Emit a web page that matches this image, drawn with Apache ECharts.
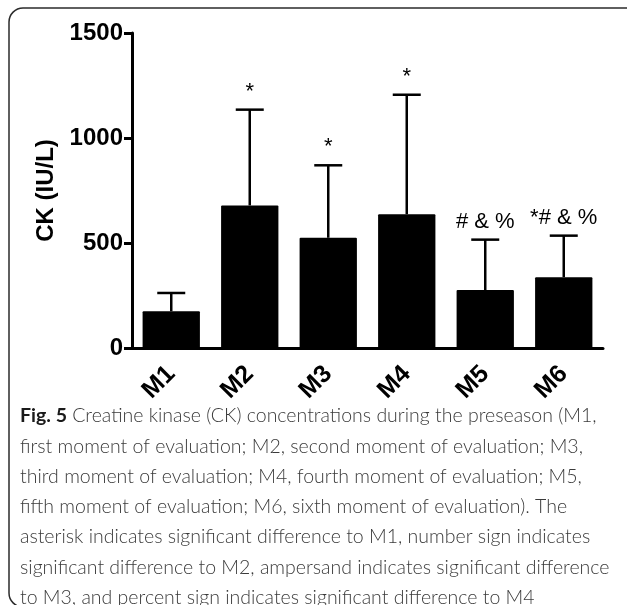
<!DOCTYPE html>
<html><head><meta charset="utf-8">
<script src="https://cdn.jsdelivr.net/npm/echarts@6.0.0/dist/echarts.min.js"></script>
<style>html,body{margin:0;padding:0;background:#fff}#c{width:627px;height:605px}</style>
</head><body><div id="c"></div>
<script>
const categories = ['M1', 'M2', 'M3', 'M4', 'M5', 'M6'];
const means = [175, 679, 525, 637, 276, 337];
const errorTops = [262, 1135, 870, 1206, 516, 535];
const marks = ['', '*', '*', '*', '# & %', '*# & %'];
const yTicks = [0, 500, 1000, 1500];
const yName = 'CK (IU/L)';
const captionLines = [
  '{b|Fig. 5} Creatine kinase (CK) concentrations during the preseason (M1,',
  'first moment of evaluation; M2, second moment of evaluation; M3,',
  'third moment of evaluation; M4, fourth moment of evaluation; M5,',
  'fifth moment of evaluation; M6, sixth moment of evaluation). The',
  'asterisk indicates significant difference to M1, number sign indicates',
  'significant difference to M2, ampersand indicates significant difference',
  'to M3, and percent sign indicates significant difference to M4'
];

const chart = echarts.init(document.getElementById('c'), null, {renderer: 'canvas'});
const FONT = '"Liberation Sans", Arial, Helvetica, sans-serif';
const CAPFONT = 'Lato, "Open Sans", sans-serif';

const graphic = [
  {type: 'rect', x: 9, y: 8, shape: {x: 0, y: 0, width: 632, height: 599, r: 14},
   style: {fill: 'none', stroke: '#2b2b2b', lineWidth: 1.5}, z: -10, silent: true}
];
captionLines.forEach(function (t, i) {
  graphic.push({
    type: 'text', x: 20, y: 416 + i * 30.3,
    style: {
      text: t, fill: '#3a3a3a', fontFamily: CAPFONT, fontSize: 19.5, fontWeight: 300,
      verticalAlign: 'middle', align: 'left',
      rich: {b: {fontFamily: CAPFONT, fontSize: 19.5, fontWeight: 'bold', fill: '#1a1a1a'}}
    }
  });
});

chart.setOption({
  animation: false,
  grid: {left: 132, right: 24, top: 33, bottom: 257, containLabel: false},
  xAxis: {
    type: 'category', data: categories,
    axisLine: {lineStyle: {color: '#000', width: 3}},
    axisTick: {alignWithLabel: true, length: 11, lineStyle: {color: '#000', width: 3}},
    axisLabel: {rotate: 45, margin: 22, color: '#000', fontSize: 25, fontWeight: 'bold', fontFamily: FONT}
  },
  yAxis: {
    type: 'value', min: yTicks[0], max: yTicks[yTicks.length - 1], interval: yTicks[1] - yTicks[0],
    name: yName, nameLocation: 'middle', nameGap: 74,
    nameTextStyle: {color: '#000', fontSize: 24, fontWeight: 'bold', fontFamily: FONT},
    axisLine: {show: true, lineStyle: {color: '#000', width: 3}},
    axisTick: {show: true, length: 8, lineStyle: {color: '#000', width: 3}},
    axisLabel: {margin: 9, color: '#000', fontSize: 24, fontWeight: 'bold', fontFamily: FONT,
      formatter: function (v) { return String(v); }},
    splitLine: {show: false}
  },
  series: [
    {
      type: 'bar', data: means, barCategoryGap: '27%',
      itemStyle: {color: '#000', borderRadius: 1}, z: 2
    },
    {
      type: 'custom', z: 3,
      data: categories.map(function (c, i) { return [i, means[i], errorTops[i]]; }),
      renderItem: function (params, api) {
        const i = api.value(0);
        const base = api.coord([i, api.value(1)]);
        const top = api.coord([i, api.value(2)]);
        const x = base[0];
        return {
          type: 'group', children: [
            {type: 'line', shape: {x1: x, y1: base[1], x2: x, y2: top[1]}, style: {stroke: '#000', lineWidth: 2.5}},
            {type: 'line', shape: {x1: x - 14, y1: top[1], x2: x + 14, y2: top[1]}, style: {stroke: '#000', lineWidth: 2.5}},
            {type: 'text', x: x, y: top[1] - 7, style: {
              text: marks[i], align: 'center', verticalAlign: 'bottom',
              fontFamily: FONT, fontSize: 22, fill: '#000'}}
          ]
        };
      }
    }
  ],
  graphic: graphic
});
</script></body></html>
